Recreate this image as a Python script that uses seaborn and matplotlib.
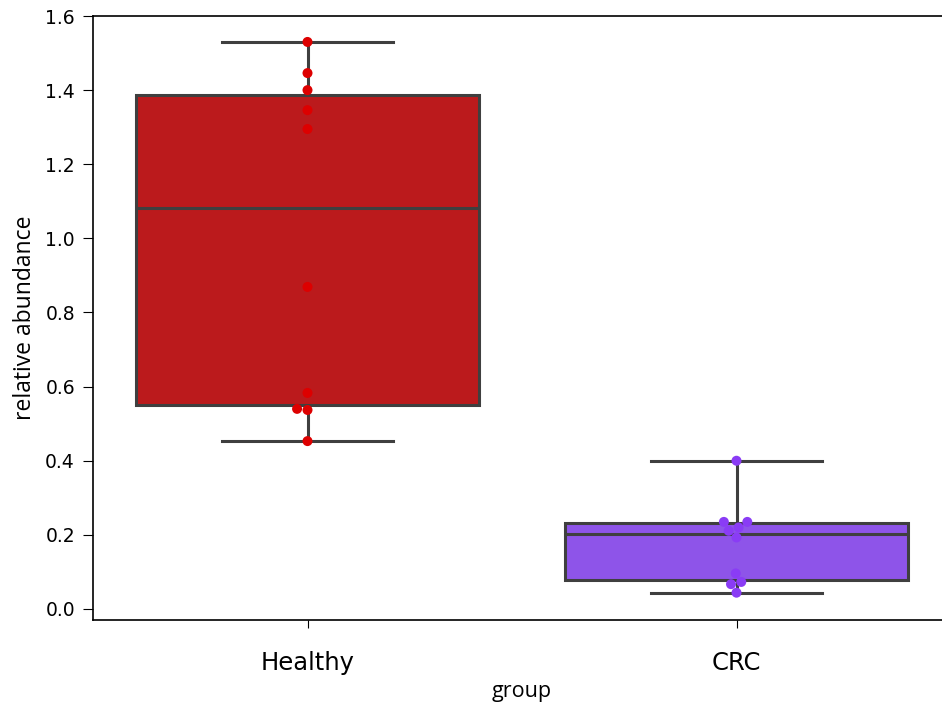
import matplotlib
matplotlib.use("Agg")
import matplotlib.pyplot as plt
import seaborn as sns
import pandas as pd

categories = ["Healthy", "CRC"]
healthy_values = [1.530, 1.446, 1.400, 1.346, 1.295, 0.869, 0.583, 0.540, 0.537, 0.453]
crc_values = [0.400, 0.235, 0.235, 0.220, 0.211, 0.193, 0.096, 0.067, 0.073, 0.044]
box_colors = ["#BB1A1C", "#8E54E9"]
point_colors = ["#DD0000", "#8A3CF5"]
yticks = [0.0, 0.2, 0.4, 0.6, 0.8, 1.0, 1.2, 1.4, 1.6]

df = pd.DataFrame({
    "group": ["Healthy"] * len(healthy_values) + ["CRC"] * len(crc_values),
    "relative abundance": healthy_values + crc_values,
})

fig = plt.figure(figsize=(9.42, 7.07), dpi=100)
ax = fig.add_axes([93 / 942, 1 - 620 / 707, (951 - 93) / 942, (620 - 16) / 707])

sns.boxplot(data=df, x="group", y="relative abundance", order=categories,
            hue="group", hue_order=categories, palette=box_colors, legend=False,
            width=0.8, linewidth=2.2, linecolor="#3F3F3F", saturation=1,
            showfliers=False, ax=ax)
sns.swarmplot(data=df, x="group", y="relative abundance", order=categories,
              hue="group", hue_order=categories, palette=point_colors, legend=False,
              size=7.2, ax=ax)

ax.set_xlim(-0.5, 1.5)
ax.set_ylim(-0.0297, 1.6)
ax.set_yticks(yticks)
ax.set_yticklabels([f"{v:.1f}" for v in yticks], fontsize=13.5, family="DejaVu Sans")
ax.set_xticks([0, 1])
ax.set_xticklabels(categories, fontsize=17.5, family="DejaVu Sans")
ax.tick_params(axis="x", pad=16, length=6)
ax.tick_params(axis="y", pad=6, length=7)
ax.set_xlabel("group", fontsize=15.5, family="Open Sans", labelpad=5)
ax.set_ylabel("relative abundance", fontsize=16.5, family="Open Sans", labelpad=6)
for s in ax.spines.values():
    s.set_linewidth(1.2)

fig.savefig("out.png", dpi=100)
